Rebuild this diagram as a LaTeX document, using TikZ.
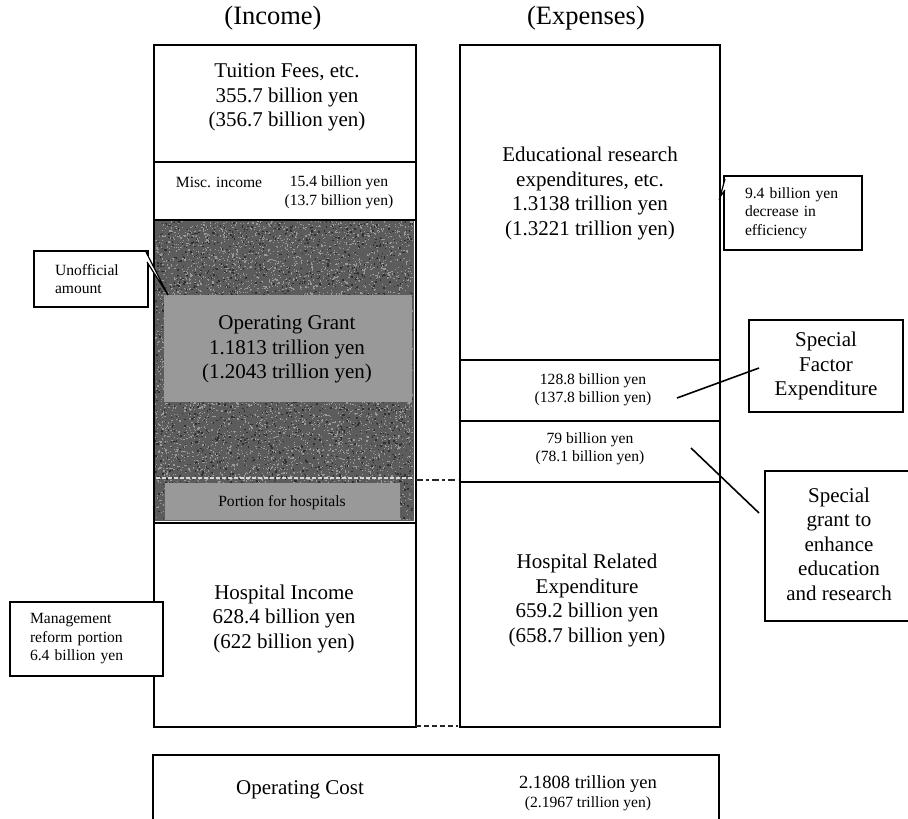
\documentclass[tikz,border=0pt]{standalone}
\usepackage{fontspec}
\setmainfont{Liberation Serif}
\definecolor{labelgray}{HTML}{999999}
\definecolor{grantdark}{HTML}{5C5C5C}
\definecolor{speckcol}{HTML}{9A9A9A}
\definecolor{speckdark}{HTML}{303030}
\tikzset{
  colbox/.style={draw=black, line width=2.2pt, inner sep=0pt, anchor=north west},
  subbox/.style={draw=black, line width=1.8pt, inner sep=0pt, anchor=north west},
  graybox/.style={fill=labelgray, draw=none, inner sep=0pt, anchor=north west},
  bigtxt/.style={font=\fontsize{21}{24.5}\selectfont, align=center, inner sep=0pt},
  midtxt/.style={font=\fontsize{18.6}{21}\selectfont, align=center, inner sep=0pt},
  smalltxt/.style={font=\fontsize{15.6}{18.5}\selectfont, align=center, inner sep=0pt},
  titletxt/.style={font=\fontsize{26.5}{30}\selectfont, inner sep=0pt},
  callout/.style={draw=black, line width=1.8pt, fill=white, inner ysep=0pt, align=left,
                  font=\fontsize{15.6}{18.5}\selectfont},
  pointer/.style={draw=black, line width=1.2pt, fill=white, line join=miter},
  leader/.style={draw=black, line width=1.6pt},
  dashdotlink/.style={draw=black!85, line width=2.2pt, dash pattern=on 7pt off 3pt on 3pt off 3pt},
  dashlink/.style={draw=black!85, line width=2.2pt, dash pattern=on 5pt off 3pt},
  speck/.style={fill=speckcol},
  speckd/.style={fill=speckdark}
}
\begin{document}
\begin{tikzpicture}[x=1pt,y=-1pt]
\useasboundingbox[fill=white] (0,0) rectangle (908,819);

% titles
\node[titletxt] (tinc) at (273,18) {(Income)};
\node[titletxt] (texp) at (586,18) {(Expenses)};

% ---- income column ----
\node[colbox, minimum width=262pt, minimum height=117pt] (tuition) at (153,44) {};
\node[colbox, minimum width=262pt, minimum height=58pt] (misc) at (153,161) {};

% shaded grant area with noise
\fill[grantdark] (154,220) rectangle (414,521);
\pgfmathsetseed{7}
\foreach \i in {1,...,6000}{
  \fill[speck] ({155+257*rnd},{221+298*rnd}) rectangle ++(1.2,1.2);
}
\foreach \i in {1,...,2500}{
  \fill[speckd] ({155+257*rnd},{221+298*rnd}) rectangle ++(1.4,1.4);
}
\draw[white!85!black, line width=1.2pt, dash pattern=on 4pt off 2pt] (156,478) -- (412,478);
\node[graybox, minimum width=248pt, minimum height=107pt] (glabel) at (164,295) {};
\node[graybox, minimum width=235pt, minimum height=37pt] (portion) at (165,483) {};
\node[colbox, minimum width=262pt, minimum height=303pt] (grant) at (153,219) {};

\node[colbox, minimum width=262pt, minimum height=204pt] (hosp) at (153,522) {};

% ---- expenses column ----
\node[colbox, minimum width=260pt, minimum height=682pt] (exp) at (459,44) {};
\node[subbox, minimum width=260pt, minimum height=61pt] (sfbox) at (459,359) {};
\node[subbox, minimum width=260pt, minimum height=61pt] (sgbox) at (459,420) {};

% ---- texts in columns ----
\node[bigtxt] (ttuition) at (287,97.5) {Tuition Fees, etc.\\355.7 billion yen\\(356.7 billion yen)};
\node[smalltxt] (tmisc) at (219,182) {Misc. income};
\node[smalltxt] (tmiscv) at (339,192.5) {15.4 billion yen\\(13.7 billion yen)};
\node[bigtxt] (tgrant) at (287,349.5) {Operating Grant\\1.1813 trillion yen\\(1.2043 trillion yen)};
\node[smalltxt] (tportion) at (282,503) {Portion for hospitals};
\node[bigtxt] (thosp) at (284,618.5) {Hospital Income\\628.4 billion yen\\(622 billion yen)};

\node[bigtxt] (texpv) at (590,193.5) {Educational research\\expenditures, etc.\\1.3138 trillion yen\\(1.3221 trillion yen)};
\node[smalltxt] (tsf) at (593,390) {128.8 billion yen\\(137.8 billion yen)};
\node[smalltxt] (tsg) at (590,449) {79 billion yen\\(78.1 billion yen)};
\node[bigtxt] (thr) at (587,600.5) {Hospital Related\\Expenditure\\659.2 billion yen\\(658.7 billion yen)};

% ---- links between columns ----
\coordinate (lkA) at (416,480);
\coordinate (lkB) at (458,480);
\draw[dashdotlink] (lkA) -- (lkB);
\coordinate (lkC) at (416,726);
\coordinate (lkD) at (458,726);
\draw[dashlink] (lkC) -- (lkD);

% ---- operating cost ----
\draw[line width=2.2pt] (153,830) -- (153,755) -- (719,755) -- (719,830);
\node[bigtxt] (top) at (300,790) {Operating Cost};
\node[midtxt] (topv) at (588,784) {2.1808 trillion yen};
\node[smalltxt] (topv2) at (588,804) {(2.1967 trillion yen)};

% ---- callouts ----
\node[callout, inner xsep=21pt, text width=72pt, minimum width=114pt, minimum height=56pt] (unoff) at (91,279) {Unofficial\\amount};
\draw[pointer] (146,252) -- (168,295) -- (147,262);
\node[callout, inner xsep=20pt, text width=113pt, minimum width=153pt, minimum height=74pt] (mgmt) at (86.5,639) {Management\\reform portion\\6.4 billion yen};
\node[callout, inner xsep=21pt, text width=96pt, minimum width=138pt, minimum height=74pt] (eff) at (793,213) {9.4 billion yen\\decrease in\\efficiency};
\draw[pointer] (725,179) -- (720,197) -- (725,190);

% special factor
\node[draw=black, line width=1.8pt, minimum width=154pt, minimum height=92pt, bigtxt] (sfx) at (826,366) {Special\\Factor\\Expenditure};
\coordinate (sfA) at (677,398);
\coordinate (sfB) at (759,368);
\draw[leader] (sfA) -- (sfB);

% special grant
\draw[line width=1.8pt] (912,471) -- (765,471) -- (765,621) -- (912,621);
\node[bigtxt] (sgx) at (839,544) {Special\\grant to\\enhance\\education\\and research};
\coordinate (sgA) at (691,448);
\coordinate (sgB) at (759,513);
\draw[leader] (sgA) -- (sgB);
\end{tikzpicture}
\end{document}
